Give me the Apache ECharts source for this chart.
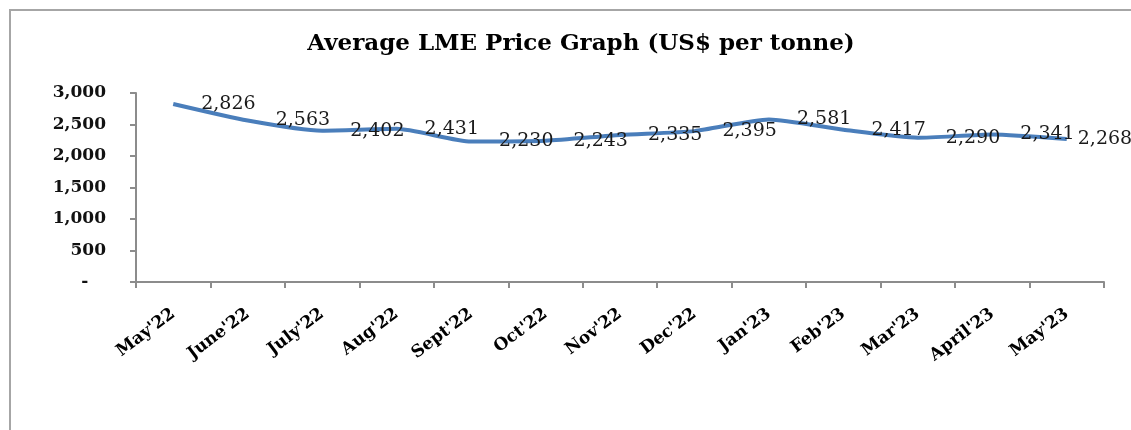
<!DOCTYPE html>
<html>
<head>
<meta charset="utf-8">
<title>Average LME Price Graph</title>
<script src="https://cdn.jsdelivr.net/npm/echarts@6/dist/echarts.min.js"></script>
<style>
  html, body { margin: 0; padding: 0; background: #fff; overflow: hidden; }
  #chart { width: 1131px; height: 430px; }
</style>
</head>
<body>
<div id="chart"></div>
<script>
// months on the x axis
var months = ["May'22", "June'22", "July'22", "Aug'22", "Sept'22", "Oct'22", "Nov'22",
  "Dec'22", "Jan'23", "Feb'23", "Mar'23", "April'23", "May'23"];

// average LME price, US$ per tonne
var prices = [2826, 2563, 2402, 2431, 2230, 2243, 2335, 2395, 2581, 2417, 2290, 2341, 2268];

var yMin = 0;
var yMax = 3000;
var yStep = 500;

init();

function init() {
  var myChart = echarts.init(document.getElementById('chart'));

  // last label sits closer to its point (it runs off the right edge)
  var seriesData = prices.map(function (v, i) {
    if (i === prices.length - 1) {
      return { value: v, label: { distance: 11 } };
    }
    return v;
  });

  var option = {
    animation: false,
    textStyle: { fontFamily: 'DejaVu Serif' },
    title: {
      text: 'Average LME Price Graph (US$ per tonne)',
      left: 576,
      textAlign: 'center',
      top: 28,
      textStyle: {
        fontFamily: 'DejaVu Serif',
        fontWeight: 'bold',
        fontSize: 23,
        color: '#000'
      }
    },
    graphic: [{
      type: 'line',
      shape: { x1: 10, y1: 9, x2: 10, y2: 430 },
      style: { stroke: '#a6a6a6', lineWidth: 2 }
    }, {
      type: 'line',
      shape: { x1: 9, y1: 10, x2: 1145, y2: 10 },
      style: { stroke: '#a6a6a6', lineWidth: 2 }
    }],
    grid: { left: 136, right: 27, top: 93, bottom: 148 },
    xAxis: {
      type: 'category',
      data: months,
      boundaryGap: true,
      axisLine: { lineStyle: { color: '#8c8c8c', width: 2 } },
      axisTick: { show: true, interval: 0, length: 6, lineStyle: { color: '#8c8c8c', width: 2 } },
      axisLabel: {
        interval: 0,
        rotate: 37,
        margin: 30,
        fontFamily: 'DejaVu Serif',
        fontWeight: 'bold',
        fontSize: 17,
        color: '#000'
      }
    },
    yAxis: {
      type: 'value',
      min: yMin,
      max: yMax,
      interval: yStep,
      splitLine: { show: false },
      axisLine: { show: true, lineStyle: { color: '#8c8c8c', width: 2 } },
      axisTick: { show: true, length: 6, lineStyle: { color: '#8c8c8c', width: 2 } },
      axisLabel: {
        margin: 30,
        fontFamily: 'DejaVu Serif',
        fontWeight: 'bold',
        fontSize: 17,
        color: '#111',
        formatter: function (v) {
          return v === 0 ? '-   ' : v.toLocaleString('en-US');
        }
      }
    },
    series: [{
      type: 'line',
      data: seriesData,
      smooth: 0.2,
      symbol: 'circle',
      symbolSize: 0,
      showSymbol: true,
      lineStyle: { color: '#4a7ebb', width: 4 },
      itemStyle: { color: '#4a7ebb' },
      label: {
        show: true,
        position: 'right',
        distance: 28,
        fontFamily: 'DejaVu Serif',
        fontSize: 19,
        color: '#1a1a1a',
        formatter: function (p) {
          return p.value.toLocaleString('en-US');
        }
      }
    }]
  };

  myChart.setOption(option);
}
</script>
</body>
</html>
